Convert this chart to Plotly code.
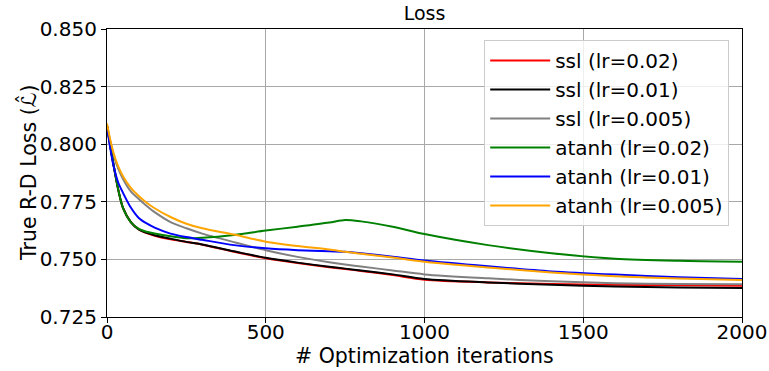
import plotly.graph_objects as go

iters = [0, 10, 20, 35, 50, 75, 100, 125, 150, 200, 250, 300, 400, 500, 600, 700, 750,
         800, 900, 1000, 1200, 1400, 1600, 1800, 2000]

ssl_002 = [0.808, 0.7995, 0.7915, 0.7805, 0.7725, 0.7662, 0.7630, 0.7614, 0.7603, 0.7587, 0.7576,
           0.7564, 0.7533, 0.7505, 0.7484, 0.7466, 0.7458, 0.7450, 0.7432, 0.7412, 0.7400,
           0.7393, 0.7390, 0.7388, 0.7386]
ssl_001 = [0.808, 0.7995, 0.7915, 0.7805, 0.7725, 0.7662, 0.7630, 0.7615, 0.7605, 0.7590, 0.7576,
           0.7565, 0.7535, 0.7507, 0.7486, 0.7468, 0.7460, 0.7452, 0.7435, 0.7415, 0.7400,
           0.7390, 0.7382, 0.7378, 0.7376]
ssl_0005 = [0.808, 0.8015, 0.7955, 0.7895, 0.7850, 0.7795, 0.7762, 0.7732, 0.7705, 0.7662, 0.7635,
            0.7612, 0.7575, 0.7540, 0.7511, 0.7488, 0.7478, 0.7469, 0.7452, 0.7435, 0.7418,
            0.7405, 0.7397, 0.7393, 0.7392]
atanh_002 = [0.808, 0.7995, 0.7915, 0.7805, 0.7725, 0.7662, 0.7632, 0.7620, 0.7612, 0.7600, 0.7592,
             0.7594, 0.7606, 0.7625, 0.7642, 0.7660, 0.7671, 0.7665, 0.7642, 0.7610, 0.7562,
             0.7527, 0.7503, 0.7494, 0.7490]
atanh_001 = [0.808, 0.7985, 0.7910, 0.7835, 0.7790, 0.7725, 0.7680, 0.7656, 0.7638, 0.7612, 0.7597,
             0.7585, 0.7562, 0.7548, 0.7540, 0.7535, 0.7533, 0.7527, 0.7512, 0.7495, 0.7470,
             0.7448, 0.7434, 0.7423, 0.7415]
atanh_0005 = [0.809, 0.8020, 0.7965, 0.7905, 0.7862, 0.7810, 0.7775, 0.7746, 0.7722, 0.7684, 0.7655,
              0.7635, 0.7608, 0.7577, 0.7558, 0.7543, 0.7533, 0.7525, 0.7508, 0.7490, 0.7465,
              0.7443, 0.7427, 0.7417, 0.7411]

series_names = ["ssl (lr=0.02)", "ssl (lr=0.01)", "ssl (lr=0.005)",
                "atanh (lr=0.02)", "atanh (lr=0.01)", "atanh (lr=0.005)"]
series_values = [ssl_002, ssl_001, ssl_0005, atanh_002, atanh_001, atanh_0005]
colors = ["#ff0000", "#000000", "#808080", "#008000", "#0000ff", "#ffa500"]

y_ticks = [0.725, 0.750, 0.775, 0.800, 0.825, 0.850]
x_ticks = [0, 500, 1000, 1500, 2000]

FONT = "DejaVu Sans"

fig = go.Figure()
for name, vals, col in zip(series_names, series_values, colors):
    fig.add_trace(go.Scatter(
        x=iters, y=vals, mode="lines", name=name, legendgroup=name,
        line=dict(color=col, width=2, shape="spline", smoothing=0.8),
    ))

axis_common = dict(
    showline=True, linecolor="black", linewidth=1.2, mirror=True,
    ticks="outside", ticklen=5, tickcolor="black", tickwidth=1.2,
    showgrid=True, gridcolor="#a8a8a8", gridwidth=1,
    zeroline=False, automargin=False,
    tickfont=dict(family=FONT, size=20, color="black"),
)

fig.update_xaxes(range=[0, 2000], tickvals=x_ticks, ticklabelstandoff=-8, **axis_common)
fig.update_yaxes(range=[0.725, 0.850], tickvals=y_ticks, tickformat=".3f", **axis_common)

fig.add_annotation(text="# Optimization iterations", xref="paper", yref="paper",
                   x=0.5, y=-(356 - 317) / 288, xanchor="center", yanchor="middle",
                   showarrow=False, font=dict(family=FONT, size=20.5, color="black"))
fig.add_annotation(text="True R-D Loss (ℒ\u0302)", xref="paper", yref="paper",
                   x=-(107 - 28) / 635, y=0.5, xanchor="center", yanchor="middle",
                   textangle=-90, showarrow=False,
                   font=dict(family=FONT, size=20.5, color="black"))

fig.update_layout(
    width=769, height=371,
    margin=dict(l=107, r=27, t=29, b=54),
    paper_bgcolor="white", plot_bgcolor="white",
    font=dict(family=FONT, color="black"),
    title=dict(text="Loss", x=0.5, xref="paper", xanchor="center",
               y=1 - 13 / 371, yref="container", yanchor="middle",
               font=dict(family=FONT, size=19, color="black")),
    legend=dict(x=0.594, y=0.962, xanchor="left", yanchor="top",
                bgcolor="rgba(255,255,255,0.8)", bordercolor="#cccccc", borderwidth=1,
                font=dict(family=FONT, size=20, color="black"),
                tracegroupgap=0, itemwidth=60),
    showlegend=True,
)

fig.write_html("out.html")
